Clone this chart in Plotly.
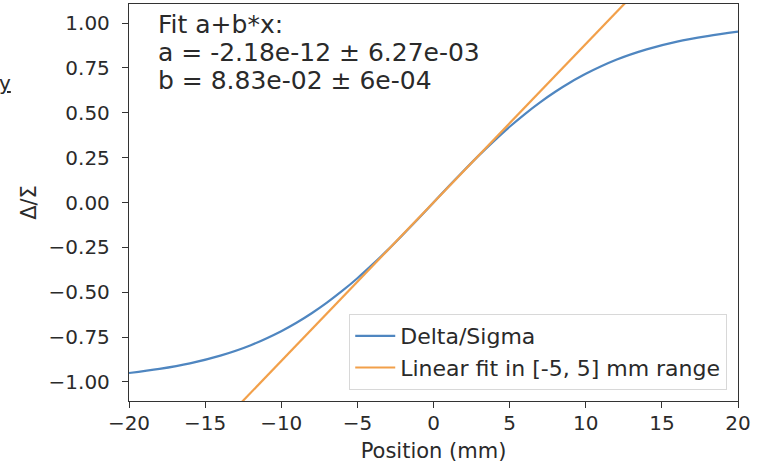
import plotly.graph_objects as go

# Data
pos_mm = [-20, -18, -16, -14, -12, -10, -9, -8, -7, -6, -5, -4, -3, -2, -1, 0,
          1, 2, 3, 4, 5, 6, 7, 8, 9, 10, 12, 14, 16, 18, 20]
delta_sigma = [-0.950, -0.927, -0.896, -0.853, -0.795, -0.717, -0.670, -0.617, -0.558, -0.493,
               -0.422, -0.345, -0.264, -0.178, -0.090, 0.000,
               0.090, 0.178, 0.264, 0.345, 0.422, 0.493, 0.558, 0.617, 0.670, 0.717,
               0.795, 0.853, 0.896, 0.927, 0.952]
fit_x = [-20, 20]
fit_y = [-1.766, 1.766]

x_ticks = [-20, -15, -10, -5, 0, 5, 10, 15, 20]
y_ticks = [-1.0, -0.75, -0.5, -0.25, 0.0, 0.25, 0.5, 0.75, 1.0]
y_labels = ["\u22121.00", "\u22120.75", "\u22120.50", "\u22120.25", "0.00", "0.25", "0.50", "0.75", "1.00"]
x_labels = ["\u221220", "\u221215", "\u221210", "\u22125", "0", "5", "10", "15", "20"]

fit_lines = ["Fit a+b*x:", "a = -2.18e-12 \u00b1 6.27e-03", "b = 8.83e-02 \u00b1 6e-04"]

FONT = "DejaVu Sans"
TXT = "#2a2a2a"

fig = go.Figure()
fig.add_trace(go.Scatter(x=pos_mm, y=delta_sigma, mode="lines", name="Delta/Sigma",
                         line=dict(color="#4f86c0", width=2.2, shape="spline")))
fig.add_trace(go.Scatter(x=fit_x, y=fit_y, mode="lines", name="Linear fit in [-5, 5] mm range",
                         line=dict(color="#f2a04a", width=2.2)))

axis_common = dict(showgrid=False, zeroline=False, showline=True, linecolor="#333",
                   linewidth=1.3, mirror=True, ticks="outside", ticklen=6, tickwidth=1.3,
                   tickcolor="#333",
                   tickfont=dict(family=FONT, size=20, color=TXT))

fig.update_xaxes(range=[-20, 20], tickvals=x_ticks, ticktext=x_labels, ticklabelstandoff=-2,
                 title=dict(text="Position (mm)", font=dict(family=FONT, size=21, color=TXT), standoff=9),
                 **axis_common)
fig.update_yaxes(range=[-1.106, 1.106], tickvals=y_ticks, ticktext=y_labels, ticklabelstandoff=8,
                 title=dict(text="\u0394/\u03a3", font=dict(family=FONT, size=21, color=TXT), standoff=6),
                 **axis_common)

# fit text, one line each (plot area spans y pixels 4..401)
line_px = [25, 53, 80]
for txt, py in zip(fit_lines, line_px):
    fig.add_annotation(xref="paper", yref="paper", x=0.045, y=(401 - py) / 397,
                       xanchor="left", yanchor="middle",
                       text=txt, showarrow=False, align="left",
                       font=dict(family=FONT, size=25, color=TXT))

fig.add_annotation(xref="paper", yref="paper", x=-0.19, y=0.80, xanchor="right", yanchor="middle",
                   text="<u>y</u>", showarrow=False, font=dict(family=FONT, size=20, color=TXT))

fig.update_layout(
    width=765, height=465,
    margin=dict(l=129, r=27, t=4, b=64),
    paper_bgcolor="white", plot_bgcolor="white",
    font=dict(family=FONT, color=TXT),
    legend=dict(x=0.982, y=0.028, xanchor="right", yanchor="bottom",
                bgcolor="rgba(255,255,255,0.85)", bordercolor="#d8d8d8", borderwidth=1.2,
                font=dict(family=FONT, size=22, color=TXT), itemwidth=40,
                tracegroupgap=0),
    showlegend=True,
)

fig.write_html("out.html")
